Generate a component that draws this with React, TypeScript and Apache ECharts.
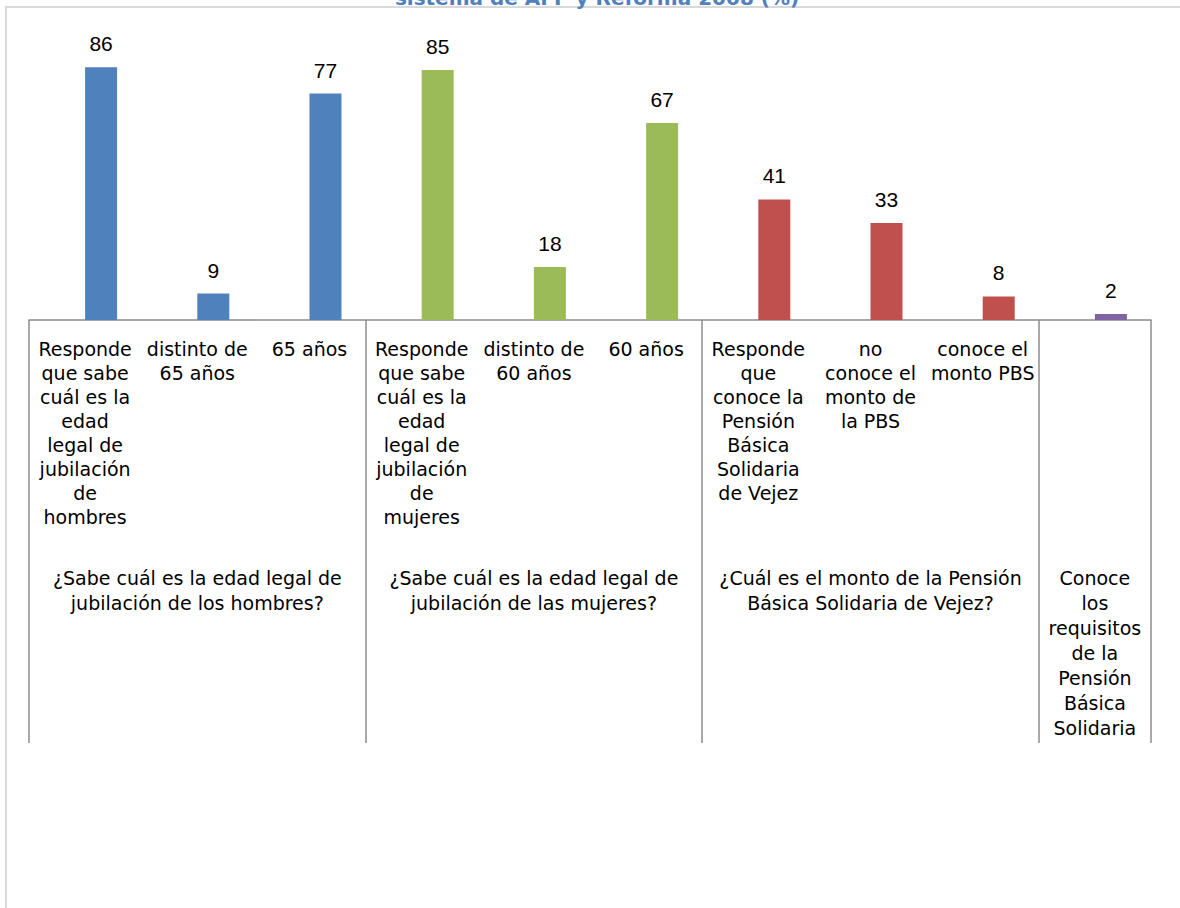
import React, { useEffect, useRef } from "react";
import * as echarts from "echarts";

const categories = [
  "Responde\nque sabe\ncuál es la\nedad\nlegal de\njubilación\nde\nhombres",
  "distinto de\n65 años",
  "65 años",
  "Responde\nque sabe\ncuál es la\nedad\nlegal de\njubilación\nde\nmujeres",
  "distinto de\n60 años",
  "60 años",
  "Responde\nque\nconoce la\nPensión\nBásica\nSolidaria\nde Vejez",
  "no\nconoce el\nmonto de\nla PBS",
  "conoce el\nmonto PBS",
  "",
];

const values = [86, 9, 77, 85, 18, 67, 41, 33, 8, 2];

const groupLabels = [
  "¿Sabe cuál es la edad legal de\njubilación de los hombres?",
  "¿Sabe cuál es la edad legal de\njubilación de las mujeres?",
  "¿Cuál es el monto de la Pensión\nBásica Solidaria de Vejez?",
  "Conoce\nlos\nrequisitos\nde la\nPensión\nBásica\nSolidaria",
];
// index of the category under which each group label is centred
const groupCenters = [1, 4, 7, 9];
// category index where each group begins
const groupStarts = [0, 3, 6, 9];
const groupOfCategory = [0, 0, 0, 1, 1, 1, 2, 2, 2, 3];
const groupColors = ["#4F81BD", "#9BBB59", "#C0504D", "#8064A2"];

const titleText = "sistema de AFP y Reforma 2008 (%)";

const FONT = "DejaVu Sans";

export default function App() {
  const ref = useRef<HTMLDivElement>(null);

  useEffect(() => {
    if (!ref.current) return;
    const chart = echarts.init(ref.current, null, { renderer: "svg" });
    chart.setOption({
      animation: false,
      backgroundColor: "#ffffff",
      graphic: [
        {
          type: "rect",
          shape: { x: 6, y: 7, width: 1200, height: 920 },
          style: { fill: "none", stroke: "#D9D9D9", lineWidth: 2 },
          silent: true,
        },
        {
          type: "text",
          x: 597,
          y: 8,
          style: {
            text: titleText,
            fill: "#4F81BD",
            font: `bold 20px "${FONT}"`,
            textAlign: "center",
            textVerticalAlign: "bottom",
          },
          silent: true,
        },
      ],
      grid: { left: 29, right: 29, top: 26, bottom: 588, containLabel: false },
      xAxis: [
        {
          type: "category",
          position: "bottom",
          data: categories,
          axisLine: { show: true, lineStyle: { color: "#8C8C8C", width: 1.5 } },
          axisTick: {
            show: true,
            length: 423,
            interval: (index: number) => groupStarts.includes(index),
            lineStyle: { color: "#8C8C8C", width: 1.5 },
          },
          axisLabel: {
            interval: 0,
            margin: 17,
            color: "#000000",
            fontFamily: FONT,
            fontSize: 19,
            lineHeight: 24,
            align: "center",
          },
        },
        {
          type: "category",
          position: "bottom",
          data: categories,
          axisLine: { show: false },
          axisTick: { show: false },
          axisLabel: {
            interval: 0,
            margin: 245,
            color: "#000000",
            fontFamily: FONT,
            fontSize: 19,
            lineHeight: 25,
            align: "center",
            formatter: (_v: string, index: number) => {
              const g = groupCenters.indexOf(index);
              return g >= 0 ? groupLabels[g] : "";
            },
          },
        },
      ],
      yAxis: {
        type: "value",
        min: 0,
        max: 100,
        show: false,
        splitLine: { show: false },
      },
      series: [
        {
          // empty companion series: reproduces the clustered offset of the bars
          type: "bar",
          xAxisIndex: 0,
          barWidth: 32,
          barGap: "0%",
          data: values.map(() => null),
          label: { show: false },
        },
        {
          type: "bar",
          xAxisIndex: 0,
          barWidth: 32,
          barGap: "0%",
          data: values.map((v, i) => ({
            value: v,
            itemStyle: { color: groupColors[groupOfCategory[i]] },
          })),
          label: {
            show: true,
            position: "top",
            distance: 13,
            color: "#000000",
            fontFamily: "Liberation Sans",
            fontSize: 21,
            lineHeight: 21,
          },
        },
      ],
    });
    return () => chart.dispose();
  }, []);

  return (
    <div
      ref={ref}
      style={{ position: "fixed", left: 0, top: 0, width: 1180, height: 908 }}
    />
  );
}
